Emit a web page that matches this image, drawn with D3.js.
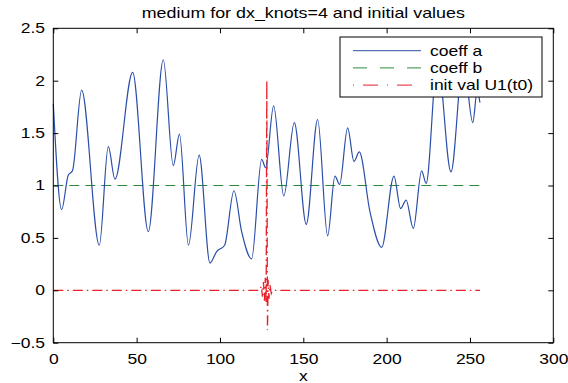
<!DOCTYPE html>
<html>
<head>
<meta charset="utf-8">
<script src="https://cdn.jsdelivr.net/npm/d3@7"></script>
<style>
  body { margin: 0; background: #fff; }
  text { font-family: "Liberation Sans", Arial, Helvetica, sans-serif; }
</style>
</head>
<body>
<div id="chart"></div>
<script>
// tick labels
const xTicks = [0, 50, 100, 150, 200, 250, 300];
const yTicks = [-0.5, 0, 0.5, 1, 1.5, 2, 2.5];

// coeff a (knots)
const aX = [0, 5, 9, 11.5, 17, 27.6, 33, 37, 47.6, 57, 66, 72, 75.7, 81.1, 87.5, 94, 98, 102.8,
  108.4, 113, 119, 125, 127.4, 132.2, 138.3, 144.6, 151.8, 158.6, 164.6, 169, 171.8, 176.6,
  180.4, 183.6, 190, 197, 204.4, 208.4, 211.7, 216, 221, 223.7, 230.5, 238.6, 246, 251.7, 254.3, 256];
const aVal = [1.78, 0.77, 1.1, 1.14, 1.91, 0.43, 1.37, 1.06, 2.08, 0.56, 2.2, 1.19, 1.49, 0.43, 1.29, 0.26, 0.37, 0.43,
  0.95, 0.56, 0.30, 1.25, 1.17, 1.76, 0.90, 1.60, 0.63, 1.63, 0.52, 1.09, 1.01, 1.55,
  1.23, 1.32, 0.75, 0.41, 1.09, 0.78, 0.86, 0.59, 1.14, 1.02, 2.2, 1.13, 2.2, 1.60, 1.9, 1.79];

// coeff b
const bX = [0, 256];
const bVal = [1, 1];

// init val U1(t0)
const u1X = [0, 124, 124.8, 125.5, 126.1, 126.7, 127.2, 127.7, 128.1, 128.5, 128.9, 129.4, 130, 130.8, 131.6, 256];
const u1Val = [0, 0, 0.04, -0.06, 0.08, -0.1, 0.12, -0.12, 2.0, -0.38, 0.1, -0.08, 0.05, -0.03, 0, 0];

const W = 568, H = 383;
const mLeft = 53.3, mRight = 553.3, mTop = 28.3, mBottom = 342.7;
const sx = 1.25; // horizontal text stretch of the original

const svg = d3.select('#chart').append('svg')
  .attr('width', W).attr('height', H);

const x = d3.scaleLinear().domain([0, 300]).range([mLeft, mRight]);
const y = d3.scaleLinear().domain([-0.5, 2.5]).range([mBottom, mTop]);

const fmt = d => (d < 0 ? '\u2212' : '') + Math.abs(d);

// plot lines
const line = d3.line().x(d => x(d[0])).y(d => y(d[1]));

svg.append('path')
  .datum(bX.map((v, i) => [v, bVal[i]]))
  .attr('d', line)
  .attr('fill', 'none').attr('stroke', '#2a8a3a').attr('stroke-width', 1)
  .attr('stroke-dasharray', '10,6');

svg.append('path')
  .datum(u1X.map((v, i) => [v, u1Val[i]]))
  .attr('d', line)
  .attr('fill', 'none').attr('stroke', '#e8202a').attr('stroke-width', 1.3)
  .attr('stroke-dasharray', '10,4,1.5,4');

svg.append('path')
  .datum(aX.map((v, i) => [v, aVal[i]]))
  .attr('d', line.curve(d3.curveMonotoneX))
  .attr('fill', 'none').attr('stroke', '#2b4fa8').attr('stroke-width', 1.2);

// axes with inward ticks
const gx = svg.append('g').attr('transform', `translate(0,${mBottom})`)
  .call(d3.axisBottom(x).tickValues(xTicks).tickFormat(fmt).tickSizeInner(-5).tickSizeOuter(0).tickPadding(11));
svg.append('g').attr('transform', `translate(0,${mTop})`)
  .call(d3.axisTop(x).tickValues(xTicks).tickFormat('').tickSizeInner(-5).tickSizeOuter(0));
const gy = svg.append('g').attr('transform', `translate(${mLeft},0)`)
  .call(d3.axisLeft(y).tickValues(yTicks).tickFormat(fmt).tickSizeInner(-5).tickSizeOuter(0).tickPadding(6.6));
svg.append('g').attr('transform', `translate(${mRight},0)`)
  .call(d3.axisRight(y).tickValues(yTicks).tickFormat('').tickSizeInner(-5).tickSizeOuter(0));

svg.selectAll('.domain').remove();
svg.selectAll('.tick line').attr('stroke', '#000');
[gx, gy].forEach(g => g.selectAll('text')
  .attr('fill', '#000')
  .style('font-size', '14px')
  .style('font-family', '"Liberation Sans", Arial, sans-serif')
  .attr('transform', `scale(${sx},1)`));

svg.append('rect')
  .attr('x', mLeft).attr('y', mTop)
  .attr('width', mRight - mLeft).attr('height', mBottom - mTop)
  .attr('fill', 'none').attr('stroke', '#000').attr('stroke-width', 1);

// title and axis label
const stretched = (px, py, str, size) => svg.append('text')
  .attr('transform', `translate(${px},${py}) scale(${sx},1)`)
  .attr('text-anchor', 'middle')
  .style('font-size', size + 'px')
  .text(str);

stretched((mLeft + mRight) / 2, 18, 'medium for dx_knots=4 and initial values', 14.3);
stretched((mLeft + mRight) / 2, 381, 'x', 14);

// legend
const legend = svg.append('g');
legend.append('rect')
  .attr('x', 340).attr('y', 37).attr('width', 202).attr('height', 60)
  .attr('fill', '#fff').attr('stroke', '#000').attr('stroke-width', 1);

const legendItems = [
  { label: 'coeff a', color: '#2b4fa8', dash: null },
  { label: 'coeff b', color: '#2a8a3a', dash: '14,13' },
  { label: 'init val U1(t0)', color: '#e8202a', dash: '1,9,15,9' }
];
legendItems.forEach((it, i) => {
  const cy = 50.7 + i * 17.2;
  legend.append('line')
    .attr('x1', 353).attr('x2', 421).attr('y1', cy).attr('y2', cy)
    .attr('stroke', it.color).attr('stroke-width', 1)
    .attr('stroke-dasharray', it.dash);
  legend.append('text')
    .attr('transform', `translate(430,${cy + 5}) scale(${sx},1)`)
    .style('font-size', '14px')
    .text(it.label);
});
</script>
</body>
</html>
